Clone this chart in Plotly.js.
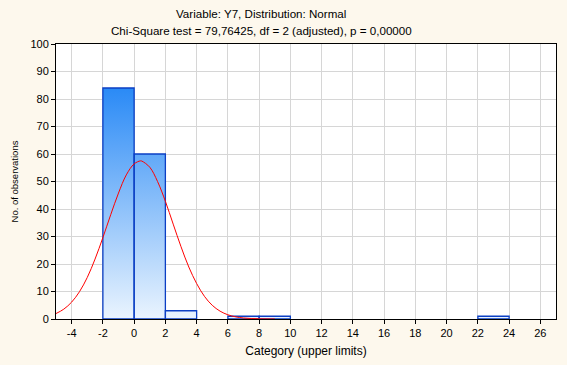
<!DOCTYPE html>
<html>
<head>
<meta charset="utf-8">
<script src="https://cdn.plot.ly/plotly-3.0.1.min.js"></script>
<style>html,body{margin:0;padding:0;background:#fdf8ed;}#chart{width:567px;height:365px;}</style>
</head>
<body>
<div id="chart"></div>
<script>
// Histogram bins (lower/upper limits) and counts
const binLower = [-2, 0, 2, 6, 8, 22];
const binUpper = [0, 2, 4, 8, 10, 24];
const counts   = [84, 60, 3, 1, 1, 1];

// Fitted normal curve (expected counts)
const curveX = [-5, -4.5, -4, -3.5, -3, -2.5, -2, -1.5, -1, -0.5, 0, 0.4, 0.5, 1, 1.5, 2, 2.5, 3, 3.5, 4, 4.5, 5, 5.5, 6, 6.5, 7, 7.5, 8, 8.5, 9];
const curveY = [1.98, 3.58, 6.14, 9.91, 15.1, 21.8, 29.6, 37.9, 45.8, 52.4, 56.4, 57.5, 57.4, 55.2, 50.0, 42.8, 34.5, 26.3, 18.9, 12.9, 8.24, 4.98, 2.85, 1.53, 0.78, 0.37, 0.17, 0.07, 0.03, 0.01];

const xTicks = [-4, -2, 0, 2, 4, 6, 8, 10, 12, 14, 16, 18, 20, 22, 24, 26];
const yTicks = [0, 10, 20, 30, 40, 50, 60, 70, 80, 90, 100];

const titleLine1 = 'Variable: Y7, Distribution: Normal';
const titleLine2 = 'Chi-Square test = 79,76425, df = 2 (adjusted), p = 0,00000';

// Build bar outlines as closed polygons
const px = [], py = [];
for (let i = 0; i < counts.length; i++) {
  px.push(binLower[i], binLower[i], binUpper[i], binUpper[i], binLower[i], null);
  py.push(0, counts[i], counts[i], 0, 0, null);
}
const maxCount = Math.max(...counts);

const bars = {
  type: 'scatter', mode: 'lines', x: px, y: py,
  fill: 'toself',
  fillgradient: {type: 'vertical', start: 0, stop: maxCount,
    colorscale: [[0, '#eaf4fe'], [1, '#2a8af6']]},
  line: {color: '#0b3fc4', width: 1.3},
  hoverinfo: 'skip', showlegend: false
};
const curve = {
  type: 'scatter', mode: 'lines', x: curveX, y: curveY,
  line: {color: '#ff0000', width: 1, shape: 'spline'},
  showlegend: false
};

const ff = 'Liberation Sans, Arial, sans-serif';
const font = {family: ff, size: 11, color: '#000'};
const plotH = 365 - 44 - 46;
const plotW = 567 - 56 - 11;
const titleX = (261 - 56) / plotW;
const layout = {
  width: 567, height: 365,
  paper_bgcolor: '#fdf8ed', plot_bgcolor: '#ffffff',
  margin: {l: 56, r: 11, t: 44, b: 46},
  font: font,
  annotations: [
    {text: titleLine1, xref: 'paper', yref: 'paper', x: titleX, y: 1 + 30 / plotH,
     xanchor: 'center', yanchor: 'middle', showarrow: false, font: {family: ff, size: 11.6, color: '#000'}},
    {text: titleLine2, xref: 'paper', yref: 'paper', x: titleX, y: 1 + 13 / plotH,
     xanchor: 'center', yanchor: 'middle', showarrow: false, font: {family: ff, size: 11.6, color: '#000'}}
  ],
  xaxis: {range: [-5, 27], tickvals: xTicks, ticktext: xTicks.map(String),
    showgrid: true, gridcolor: '#d6d6d6', gridwidth: 1, zeroline: false,
    showline: true, linecolor: '#000', linewidth: 1, mirror: true,
    ticks: 'outside', ticklen: 4, tickcolor: '#000',
    tickfont: {family: ff, size: 11, color: '#000'},
    title: {text: 'Category (upper limits)', font: {family: ff, size: 12, color: '#000'}, standoff: 8}},
  yaxis: {range: [0, 100], tickvals: yTicks, ticktext: yTicks.map(String),
    showgrid: true, gridcolor: '#d6d6d6', gridwidth: 1, zeroline: false,
    showline: true, linecolor: '#000', linewidth: 1, mirror: true,
    ticks: 'outside', ticklen: 4, tickcolor: '#000',
    tickfont: {family: ff, size: 11, color: '#000'},
    title: {text: 'No. of observations', font: {family: ff, size: 9.5, color: '#000'}, standoff: 10}}
};
Plotly.newPlot('chart', [bars, curve], layout, {displayModeBar: false, staticPlot: true});
</script>
</body>
</html>
